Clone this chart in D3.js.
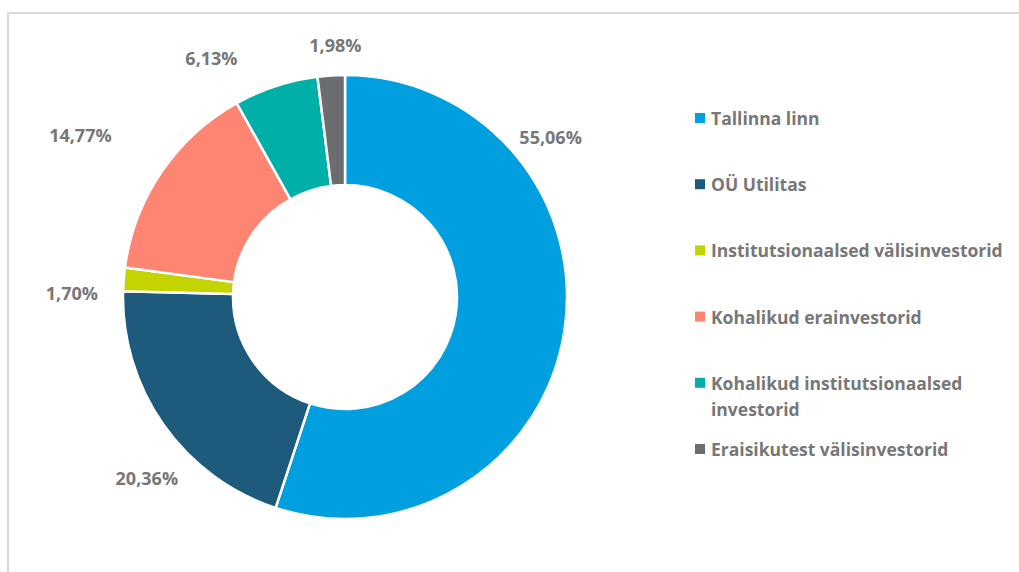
<!DOCTYPE html>
<html>
<head>
<meta charset="utf-8">
<script src="https://cdn.jsdelivr.net/npm/d3@7"></script>
<style>
  body { margin: 0; background: #fff; }
  svg { display: block; font-family: "Open Sans", Lato, sans-serif; }
</style>
</head>
<body>
<svg id="chart" width="1019" height="572"></svg>
<script>
"use strict";

// data
const categories = [
    "Tallinna linn",
    "OÜ Utilitas",
    "Institutsionaalsed välisinvestorid",
    "Kohalikud erainvestorid",
    "Kohalikud institutsionaalsed investorid",
    "Eraisikutest välisinvestorid"
];
const shares = [55.06, 20.36, 1.70, 14.77, 6.13, 1.98];
const colors = ["#009fe0", "#1d5a7c", "#c3d400", "#fd8571", "#00afa8", "#6c6d70"];
// label nudges from the default outside spot (Excel labels were moved by hand)
const labelNudge = [[-59, -202], [21, 27], [-6, 17], [-43, -11], [-50, 16], [7, 15]];

const width = 1019, height = 572;
const cx = 345, cy = 297;
const outerR = 222, innerR = 112, labelR = 268;

const svg = d3.select("#chart");

// outer frame
svg.append("rect")
    .attr("x", 8)
    .attr("y", 13)
    .attr("width", width + 20)
    .attr("height", height + 20)
    .attr("fill", "none")
    .attr("stroke", "#d9d9d9")
    .attr("stroke-width", 2);

const data = categories.map((c, i) => ({ name: c, value: shares[i], color: colors[i], nudge: labelNudge[i] }));

const pie = d3.pie()
    .sort(null)
    .value(d => d.value);

const arc = d3.arc()
    .innerRadius(innerR)
    .outerRadius(outerR);

const labelArc = d3.arc()
    .innerRadius(labelR)
    .outerRadius(labelR);

const g = svg.append("g")
    .attr("transform", "translate(" + cx + "," + cy + ")");

const arcs = pie(data);

g.selectAll("path")
    .data(arcs)
    .enter()
    .append("path")
    .attr("d", arc)
    .attr("fill", d => d.data.color)
    .attr("stroke", "#fff")
    .attr("stroke-width", 2.5)
    .attr("stroke-linejoin", "round");

const fmt = v => v.toFixed(2).replace(".", ",") + "%";

g.selectAll("text.pct")
    .data(arcs)
    .enter()
    .append("text")
    .attr("class", "pct")
    .attr("x", d => labelArc.centroid(d)[0] + d.data.nudge[0])
    .attr("y", d => labelArc.centroid(d)[1] + d.data.nudge[1])
    .attr("text-anchor", "middle")
    .attr("dominant-baseline", "central")
    .attr("font-size", 18)
    .attr("font-weight", "bold")
    .attr("fill", "#777")
    .text(d => fmt(d.data.value));

// legend
const legendX = 695, legendY0 = 118, legendStep = 66.2;

const legend = svg.append("g")
    .selectAll("g")
    .data(data)
    .enter()
    .append("g")
    .attr("transform", (d, i) => "translate(" + legendX + "," + (legendY0 + i * legendStep) + ")");

legend.append("rect")
    .attr("x", 0)
    .attr("y", -5)
    .attr("width", 10)
    .attr("height", 10)
    .attr("fill", d => d.color);

legend.append("text")
    .attr("x", 16)
    .attr("y", 0)
    .attr("dominant-baseline", "central")
    .attr("font-size", 17.5)
    .attr("font-weight", "bold")
    .attr("fill", "#777")
    .each(function (d) {
        const t = d3.select(this);
        // wrap long names to 2 lines
        const words = d.name.split(" ");
        if (words.length > 2) {
            t.append("tspan").attr("x", 16).attr("dy", 0).text(words.slice(0, 2).join(" "));
            t.append("tspan").attr("x", 16).attr("dy", 26).text(words.slice(2).join(" "));
        } else {
            t.text(d.name);
        }
    });
</script>
</body>
</html>
